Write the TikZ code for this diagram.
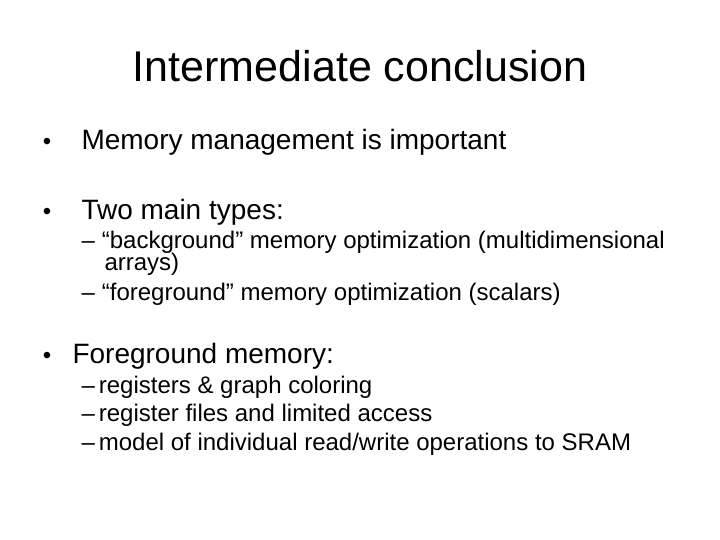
\documentclass[tikz,border=0pt]{standalone}
\usepackage{fontspec}
\setmainfont{Liberation Sans}
\usetikzlibrary{positioning}
\tikzset{
  title/.style={anchor=base, font=\fontsize{43}{48}\selectfont},
  lvlone/.style={anchor=base west, font=\fontsize{28}{32}\selectfont},
  lvltwo/.style={anchor=base west, font=\fontsize{24}{26}\selectfont},
  dot/.style={anchor=base, font=\fontsize{24}{26}\selectfont}
}
\begin{document}
\begin{tikzpicture}[x=1pt,y=-1pt]
\useasboundingbox (0,0) rectangle (720,540);
% title
\node[title] (ttl) at (360,82) {Intermediate conclusion};
% first bullets
\node[dot] (d1) at (47,150) {•};
\node[lvlone] (b1) at (78,150) {Memory management is important};
\node[dot] (d2) at (47,220) {•};
\node[lvlone] (b2) at (78,220) {Two main types:};
\node[lvltwo] (b2a) at (78,248) {–\hspace{7pt}“background” memory optimization (multidimensional};
\node[lvltwo] (b2a2) at (101,270) {arrays)};
\node[lvltwo] (b2b) at (78,300) {–\hspace{7pt}“foreground” memory optimization (scalars)};
% foreground memory
\node[dot] (d3) at (47,363) {•};
\node[lvlone] (b3) at (69,363) {Foreground memory:};
\node[lvltwo] (b3a) at (78,393) {–\hspace{4pt}registers \& graph coloring};
\node[lvltwo] (b3b) at (78,421) {–\hspace{4pt}register files and limited access};
\node[lvltwo] (b3c) at (78,450) {–\hspace{4pt}model of individual read/write operations to SRAM};
\end{tikzpicture}
\end{document}
